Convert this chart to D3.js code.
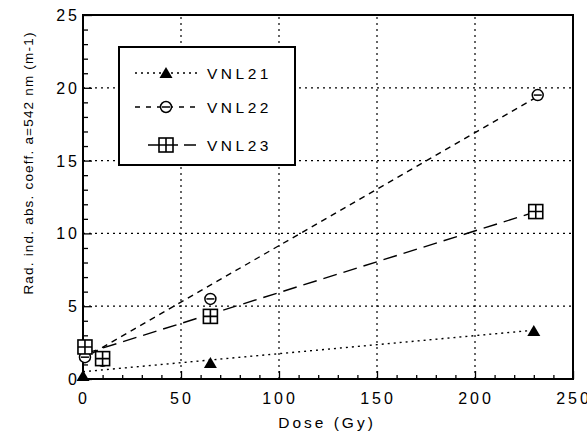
<!DOCTYPE html>
<html>
<head>
<meta charset="utf-8">
<script src="https://cdn.jsdelivr.net/npm/d3@7"></script>
<style>
  body { margin: 0; background: #fff; }
  text { font-family: "Liberation Sans", Arial, sans-serif; fill: #000; }
</style>
</head>
<body>
<div id="container"></div>
<script>
/* DATA */
const xTicks = [0, 50, 100, 150, 200, 250];
const yTicks = [0, 5, 10, 15, 20, 25];

const dose21 = [0, 65, 230];
const val21 = [0.2, 1.1, 3.3];
const dose22 = [1, 10, 65, 232];
const val22 = [1.5, 1.25, 5.5, 19.5];
const dose23 = [1, 10, 65, 231];
const val23 = [2.2, 1.4, 4.3, 11.5];

// fitted lines, end points
const fit21 = [[0, 0.5], [230, 3.35]];
const fit22 = [[0, 1.4], [232, 19.4]];
const fit23 = [[0, 1.7], [229, 11.4]];

const seriesNames = ["VNL21", "VNL22", "VNL23"];

/* LAYOUT */
const width = 587, height = 439;
const margin = {top: 15, right: 14, bottom: 60, left: 83};

const svg = d3.select("#container").append("svg")
  .attr("width", width)
  .attr("height", height);

const x = d3.scaleLinear().domain([0, 250]).range([margin.left, width - margin.right]);
const y = d3.scaleLinear().domain([0, 25]).range([height - margin.bottom, margin.top]);

const dash21 = "2,4", dash22 = "6,5", dash23 = "14,7";

// grid
svg.append("g")
  .selectAll("line")
  .data(xTicks.slice(1, -1))
  .join("line")
  .attr("x1", d => x(d)).attr("x2", d => x(d))
  .attr("y1", y(0)).attr("y2", y(25))
  .attr("stroke", "#000").attr("stroke-width", 1.2)
  .attr("stroke-dasharray", "2,4");

svg.append("g")
  .selectAll("line")
  .data(yTicks.slice(1, -1))
  .join("line")
  .attr("x1", x(0)).attr("x2", x(250))
  .attr("y1", d => y(d)).attr("y2", d => y(d))
  .attr("stroke", "#000").attr("stroke-width", 1.2)
  .attr("stroke-dasharray", "2,4");

// axes: ticks pointing inward
svg.append("g")
  .attr("transform", `translate(0,${y(0)})`)
  .call(d3.axisTop(x).tickValues(d3.range(0, 251, 10)).tickSize(4).tickFormat(""))
  .call(g => g.selectAll(".tick line").attr("stroke-width", 1.3)
    .attr("y2", d => d % 50 === 0 ? -8 : -4))
  .call(g => g.select(".domain").remove());

svg.append("g")
  .attr("transform", `translate(${x(0)},0)`)
  .call(d3.axisRight(y).tickValues(d3.range(0, 26, 1)).tickSize(5).tickFormat(""))
  .call(g => g.selectAll(".tick line").attr("stroke-width", 1.3)
    .attr("x2", d => d % 5 === 0 ? 9 : 5))
  .call(g => g.select(".domain").remove());

// tick labels
svg.append("g")
  .selectAll("text")
  .data(xTicks)
  .join("text")
  .attr("x", d => x(d) + 1)
  .attr("y", y(0) + 25)
  .attr("text-anchor", "middle")
  .attr("font-size", 16)
  .attr("letter-spacing", 3)
  .text(d => d);

svg.append("g")
  .selectAll("text")
  .data(yTicks)
  .join("text")
  .attr("x", x(0) - 3)
  .attr("y", d => y(d) + 6)
  .attr("text-anchor", "end")
  .attr("font-size", 16)
  .attr("letter-spacing", 3)
  .text(d => d);

// axis titles
svg.append("text")
  .attr("x", 327)
  .attr("y", 428)
  .attr("text-anchor", "middle")
  .attr("font-size", 15.5)
  .attr("letter-spacing", 3)
  .text("Dose (Gy)");

svg.append("text")
  .attr("transform", "translate(33,163) rotate(-90)")
  .attr("text-anchor", "middle")
  .attr("font-size", 13.5)
  .attr("letter-spacing", 1.2)
  .text("Rad. ind. abs. coeff. a=542 nm (m-1)");

// frame
svg.append("rect")
  .attr("x", x(0)).attr("y", y(25))
  .attr("width", x(250) - x(0)).attr("height", y(0) - y(25))
  .attr("fill", "none").attr("stroke", "#000").attr("stroke-width", 2);

// fit lines
const line = d3.line().x(d => x(d[0])).y(d => y(d[1]));
const fits = [[fit21, dash21], [fit22, dash22], [fit23, dash23]];
svg.append("g")
  .selectAll("path")
  .data(fits)
  .join("path")
  .attr("d", d => line(d[0]))
  .attr("fill", "none")
  .attr("stroke", "#000")
  .attr("stroke-width", 1.4)
  .attr("stroke-dasharray", d => d[1]);

// markers
function triangle(g) {
  g.append("path").attr("d", "M0,-6L6.5,5L-6.5,5Z").attr("fill", "#000");
}
function circle(g) {
  g.append("circle").attr("r", 5.5).attr("fill", "#fff").attr("stroke", "#000").attr("stroke-width", 1.5);
  g.append("line").attr("x1", -4).attr("x2", 4).attr("stroke", "#000").attr("stroke-width", 1.5);
}
function square(g) {
  g.append("rect").attr("x", -7).attr("y", -7).attr("width", 14).attr("height", 14)
    .attr("fill", "#fff").attr("stroke", "#000").attr("stroke-width", 1.6);
  g.append("path").attr("d", "M0,-7V7M-7,0H7").attr("stroke", "#000").attr("stroke-width", 1.6);
}

svg.append("g").selectAll("g")
  .data(d3.zip(dose22, val22))
  .join("g")
  .attr("transform", d => `translate(${x(d[0])},${y(d[1])})`)
  .each(function() { circle(d3.select(this)); });

svg.append("g").selectAll("g")
  .data(d3.zip(dose23, val23))
  .join("g")
  .attr("transform", d => `translate(${x(d[0])},${y(d[1])})`)
  .each(function() { square(d3.select(this)); });

svg.append("g").selectAll("g")
  .data(d3.zip(dose21, val21))
  .join("g")
  .attr("transform", d => `translate(${x(d[0])},${y(d[1])})`)
  .each(function() { triangle(d3.select(this)); });

// legend
const legend = svg.append("g");
legend.append("rect")
  .attr("x", 119).attr("y", 47).attr("width", 176).attr("height", 118)
  .attr("fill", "#fff").attr("stroke", "#000").attr("stroke-width", 2);

const legendY = [73, 107, 145];
const markers = [triangle, circle, square];
const dashes = [dash21, "5,6", "12,6"];
seriesNames.forEach((name, i) => {
  const row = legend.append("g").attr("transform", `translate(0,${legendY[i]})`);
  row.append("line")
    .attr("x1", i === 2 ? 148 : 135).attr("x2", 198)
    .attr("stroke", "#000").attr("stroke-width", 1.4)
    .attr("stroke-dasharray", dashes[i]);
  const m = row.append("g").attr("transform", "translate(166,0)");
  markers[i](m);
  row.append("text")
    .attr("x", 207).attr("y", 6)
    .attr("font-size", 15.5)
    .attr("letter-spacing", 3.5)
    .text(name);
});
</script>
</body>
</html>
